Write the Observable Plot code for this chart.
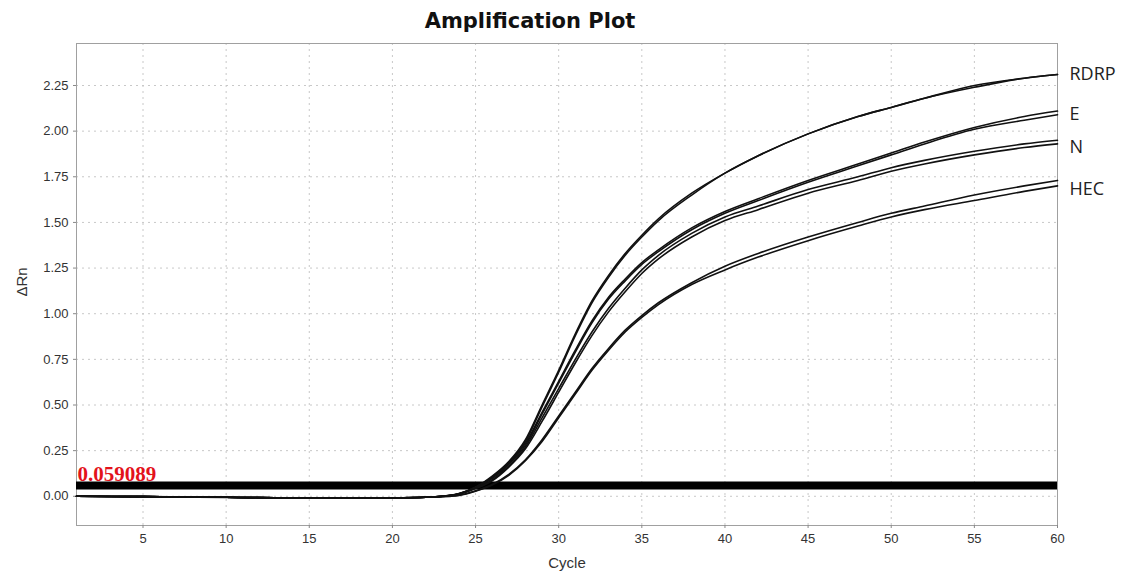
<!DOCTYPE html>
<html>
<head>
<meta charset="utf-8">
<script src="https://cdn.jsdelivr.net/npm/d3@7"></script>
<script src="https://cdn.jsdelivr.net/npm/@observablehq/plot@0.6"></script>
<style>
  html, body { margin: 0; padding: 0; background: #fff; }
  #title { width: 1060px; height: 40px; line-height: 42px; text-align: center;
           font-family: "DejaVu Sans", Verdana, sans-serif; font-weight: bold; font-size: 21px; color: #111; }
</style>
</head>
<body>
<div id="title">Amplification Plot</div>
<div id="chart"></div>
<script>
const cycles = [1,5,10,15,20,22,23,24,25,26,27,28,29,30,31,32,33,34,35,36,38,40,42,45,48,50,52,55,58,60];
const rdrp1 = [0.000,-0.002,-0.005,-0.010,-0.008,-0.005,0.000,0.015,0.050,0.110,0.190,0.310,0.500,0.690,0.890,1.070,1.210,1.330,1.430,1.520,1.660,1.770,1.865,1.985,2.080,2.130,2.180,2.250,2.290,2.310];
const rdrp2 = [0.000,-0.002,-0.006,-0.010,-0.009,-0.005,0.000,0.014,0.048,0.105,0.185,0.300,0.490,0.680,0.880,1.060,1.200,1.320,1.420,1.510,1.650,1.770,1.865,1.985,2.080,2.130,2.180,2.240,2.290,2.310];
const e1    = [0.000,-0.002,-0.005,-0.010,-0.008,-0.005,0.000,0.014,0.050,0.100,0.180,0.290,0.460,0.630,0.800,0.960,1.090,1.190,1.280,1.350,1.470,1.560,1.630,1.730,1.820,1.880,1.940,2.020,2.080,2.110];
const e2    = [0.000,-0.002,-0.005,-0.010,-0.008,-0.005,0.000,0.013,0.048,0.098,0.175,0.280,0.450,0.620,0.790,0.950,1.080,1.180,1.270,1.340,1.460,1.550,1.620,1.720,1.810,1.870,1.930,2.010,2.060,2.090];
const n1    = [0.000,-0.002,-0.005,-0.010,-0.008,-0.005,0.000,0.012,0.045,0.090,0.165,0.270,0.430,0.590,0.750,0.900,1.030,1.140,1.240,1.320,1.440,1.530,1.590,1.680,1.750,1.800,1.840,1.890,1.930,1.950];
const n2    = [0.000,-0.002,-0.005,-0.010,-0.008,-0.005,0.000,0.011,0.042,0.085,0.160,0.260,0.410,0.570,0.730,0.880,1.010,1.120,1.220,1.300,1.420,1.510,1.570,1.660,1.730,1.780,1.820,1.870,1.910,1.930];
const hec1  = [0.000,-0.002,-0.005,-0.010,-0.008,-0.005,-0.002,0.006,0.030,0.065,0.120,0.200,0.310,0.440,0.570,0.700,0.810,0.910,0.990,1.060,1.170,1.260,1.330,1.420,1.500,1.550,1.590,1.650,1.700,1.730];
const hec2  = [0.000,-0.002,-0.005,-0.010,-0.008,-0.005,-0.002,0.005,0.028,0.062,0.115,0.195,0.300,0.430,0.560,0.690,0.800,0.900,0.980,1.050,1.160,1.240,1.310,1.400,1.480,1.530,1.570,1.620,1.670,1.700];

const seriesNames = ["RDRP", "E", "N", "HEC"];
const labelY = [2.31, 2.09, 1.91, 1.68];
const threshold = 0.059089;
const thresholdLabel = "0.059089";
const xTicks = [5,10,15,20,25,30,35,40,45,50,55,60];
const yTicks = [0,0.25,0.5,0.75,1,1.25,1.5,1.75,2,2.25];
const xLabel = "Cycle";
const yLabel = "ΔRn";

const curves = {RDRP1: rdrp1, RDRP2: rdrp2, E1: e1, E2: e2, N1: n1, N2: n2, HEC1: hec1, HEC2: hec2};
const data = [];
for (const [key, vals] of Object.entries(curves)) {
  vals.forEach((v, i) => data.push({series: key, cycle: cycles[i], value: v}));
}
const labels = seriesNames.map((s, i) => ({name: s, y: labelY[i], x: 60}));

const chart = Plot.plot({
  width: 1123,
  height: 532,
  marginLeft: 76,
  marginRight: 66,
  marginTop: 3,
  marginBottom: 47,
  style: {fontFamily: "Liberation Sans, Arial, sans-serif", fontSize: "13px", color: "#333", background: "#fff"},
  x: {domain: [1, 60]},
  y: {domain: [-0.16, 2.48]},
  marks: [
    Plot.ruleX(xTicks.filter(d => d < 60), {stroke: "#c8c8c8", strokeDasharray: "2,4", strokeWidth: 1}),
    Plot.ruleY(yTicks, {stroke: "#c8c8c8", strokeDasharray: "2,4", strokeWidth: 1}),
    Plot.frame({stroke: "#a0a0a0"}),
    Plot.axisX({ticks: xTicks, tickSize: 3, tickPadding: 5, stroke: "#888", fill: "#333", fontSize: 13, label: null}),
    Plot.axisY({ticks: yTicks, tickSize: 3, tickPadding: 5, stroke: "#888", fill: "#333", fontSize: 13, tickFormat: d => d.toFixed(2), label: null}),
    Plot.text([xLabel], {frameAnchor: "bottom", dy: 42, text: d => d, fill: "#333", fontSize: 15}),
    Plot.text([yLabel], {frameAnchor: "left", dx: -54, dy: 12, rotate: -90, text: d => d, fill: "#333", fontSize: 15}),
    Plot.ruleY([threshold], {stroke: "#000", strokeWidth: 8}),
    Plot.line(data, {x: "cycle", y: "value", z: "series", stroke: "#111", strokeWidth: 1.6, curve: "monotone-x"}),
    Plot.text([threshold], {x: () => 1, y: d => d, text: () => thresholdLabel, textAnchor: "start", lineAnchor: "bottom", dy: -4, dx: 1,
      fill: "#e3121b", fontFamily: "Liberation Serif, serif", fontWeight: "bold", fontSize: 21}),
    Plot.text(labels, {x: "x", y: "y", text: "name", textAnchor: "start", dx: 12, fill: "#222",
      fontFamily: "Open Sans, sans-serif", fontSize: 18})
  ]
});
document.getElementById("chart").appendChild(chart);
</script>
</body>
</html>
